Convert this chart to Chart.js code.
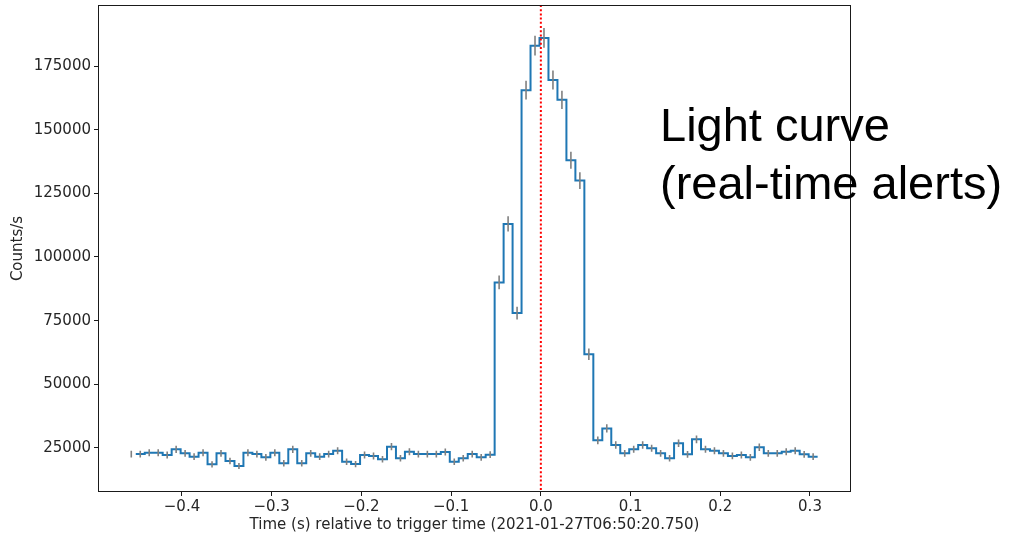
<!DOCTYPE html>
<html>
<head>
<meta charset="utf-8">
<script src="https://cdn.jsdelivr.net/npm/chart.js@4.4.1/dist/chart.umd.min.js"></script>
<style>
  html, body { margin: 0; padding: 0; background: #ffffff; }
  #wrap { position: relative; width: 1011px; height: 540px; }
  canvas { display: block; }
</style>
</head>
<body>
<div id="wrap"><canvas id="c" width="1011" height="540"></canvas></div>
<script>
// ---- data ----
const binWidth = 0.01; // seconds
const binCenters = [
  -0.4565, -0.4465, -0.4365, -0.4265, -0.4165, -0.4065, -0.3965, -0.3865, -0.3765, -0.3665,
  -0.3565, -0.3465, -0.3365, -0.3265, -0.3165, -0.3065, -0.2965, -0.2865, -0.2765, -0.2665,
  -0.2565, -0.2465, -0.2365, -0.2265, -0.2165, -0.2065, -0.1965, -0.1865, -0.1765, -0.1665,
  -0.1565, -0.1465, -0.1365, -0.1265, -0.1165, -0.1065, -0.0965, -0.0865, -0.0765, -0.0665,
  -0.0565, -0.0465, -0.0365, -0.0265, -0.0165, -0.0065, 0.0035, 0.0135, 0.0235, 0.0335,
  0.0435, 0.0535, 0.0635, 0.0735, 0.0835, 0.0935, 0.1035, 0.1135, 0.1235, 0.1335,
  0.1435, 0.1535, 0.1635, 0.1735, 0.1835, 0.1935, 0.2035, 0.2135, 0.2235, 0.2335,
  0.2435, 0.2535, 0.2635, 0.2735, 0.2835, 0.2935, 0.3035
];
const countRates = [
  22600, 22600, 23150, 23150, 22250, 24480, 22900, 21600, 23150, 18600,
  22900, 19900, 17930, 23150, 22600, 21350, 23150, 19000, 24480, 19000,
  22900, 21600, 22600, 23950, 19620, 18700, 22250, 21860, 20560, 25520,
  20950, 23550, 22600, 22600, 22600, 23400, 19620, 20950, 22600, 21350,
  22380, 90000, 113000, 78000, 165500, 183000, 186000, 169500, 161700, 138000,
  130000, 61800, 28000, 32700, 26200, 22900, 24500, 26200, 24900, 22900,
  20950, 26850, 22500, 28400, 24500, 23950, 22900, 21900, 22250, 21350,
  25300, 22900, 22900, 23550, 23950, 22500, 21600
];
const rateErrors = [
  1350, 1350, 1370, 1370, 1340, 1410, 1360, 1320, 1370, 1230,
  1360, 1270, 1200, 1370, 1350, 1310, 1370, 1240, 1410, 1240,
  1360, 1320, 1350, 1390, 1260, 1230, 1340, 1330, 1290, 1440,
  1300, 1380, 1350, 1350, 1350, 1380, 1260, 1300, 1350, 1310,
  1350, 2700, 3030, 2510, 3660, 3850, 3880, 3700, 3620, 3340,
  3250, 2240, 1510, 1630, 1460, 1360, 1410, 1460, 1420, 1360,
  1300, 1470, 1350, 1520, 1410, 1390, 1360, 1330, 1340, 1310,
  1430, 1360, 1360, 1380, 1390, 1350, 1320
];
const xTicks = [-0.4, -0.3, -0.2, -0.1, 0.0, 0.1, 0.2, 0.3];
const xTickLabels = ['\u22120.4', '\u22120.3', '\u22120.2', '\u22120.1', '0.0', '0.1', '0.2', '0.3'];
const yTicks = [25000, 50000, 75000, 100000, 125000, 150000, 175000];
const yTickLabels = ['25000', '50000', '75000', '100000', '125000', '150000', '175000'];
const triggerTime = 0.0;
const xLimits = [-0.4936, 0.3457];
const yLimits = [7722, 198953];
const xTitle = 'Time (s) relative to trigger time (2021-01-27T06:50:20.750)';
const yTitle = 'Counts/s';
const annotationLines = ['Light curve', '(real-time alerts)'];

// ---- derived plotting tables ----
// step line (drawn from the second bin onward, as in the reference)
const stepPoints = [];
for (let i = 1; i < binCenters.length; i++) {
  stepPoints.push({ x: binCenters[i] - binWidth / 2, y: countRates[i] });
  stepPoints.push({ x: binCenters[i] + binWidth / 2, y: countRates[i] });
}
// vertical error bars, separated by gaps
const errPoints = [];
for (let i = 0; i < binCenters.length; i++) {
  errPoints.push({ x: binCenters[i], y: countRates[i] - rateErrors[i] });
  errPoints.push({ x: binCenters[i], y: countRates[i] + rateErrors[i] });
  errPoints.push({ x: binCenters[i], y: null });
}

const FONT = 'DejaVu Sans';
const TEXT = '#262626';

const extras = {
  id: 'extras',
  afterDatasetsDraw(chart) {
    const { ctx, chartArea: a, scales: { x } } = chart;
    const px = x.getPixelForValue(triggerTime);
    ctx.save();
    ctx.strokeStyle = '#ff0000';
    ctx.lineWidth = 2;
    ctx.setLineDash([2, 2.2]);
    ctx.beginPath();
    ctx.moveTo(px, a.top);
    ctx.lineTo(px, a.bottom);
    ctx.stroke();
    ctx.restore();
  },
  afterDraw(chart) {
    const { ctx, chartArea: a } = chart;
    ctx.save();
    ctx.strokeStyle = '#1a1a1a';
    ctx.lineWidth = 1;
    ctx.strokeRect(Math.round(a.left) + 0.5, Math.round(a.top) + 0.5,
      Math.round(a.right - a.left) - 1, Math.round(a.bottom - a.top) - 1);
    ctx.fillStyle = '#000000';
    ctx.font = '47px "Liberation Sans", Arial, sans-serif';
    ctx.textAlign = 'left';
    ctx.textBaseline = 'alphabetic';
    ctx.fillText(annotationLines[0], 660, 141);
    ctx.fillText(annotationLines[1], 660, 199);
    ctx.restore();
  }
};

new Chart(document.getElementById('c'), {
  type: 'line',
  data: {
    datasets: [
      {
        label: 'errors',
        data: errPoints,
        borderColor: '#808080',
        borderWidth: 1.6,
        pointRadius: 0,
        spanGaps: false,
        tension: 0
      },
      {
        label: 'rate',
        data: stepPoints,
        borderColor: '#1f77b4',
        borderWidth: 2,
        pointRadius: 0,
        tension: 0
      }
    ]
  },
  options: {
    responsive: false,
    animation: false,
    devicePixelRatio: 1,
    layout: { padding: { left: 0, top: 5, right: 160, bottom: 0 } },
    plugins: { legend: { display: false }, tooltip: { enabled: false } },
    scales: {
      x: {
        type: 'linear',
        min: xLimits[0],
        max: xLimits[1],
        afterBuildTicks(scale) { scale.ticks = xTicks.map(v => ({ value: v })); },
        afterFit(scale) { scale.height = 48; scale.paddingLeft = 0; scale.paddingRight = 0; },
        grid: { display: true, drawOnChartArea: false, drawTicks: true, tickLength: 4, color: '#1a1a1a' },
        border: { display: false },
        ticks: {
          autoSkip: false, maxRotation: 0, padding: 2, color: TEXT,
          font: { family: FONT, size: 15 },
          callback: (v, i) => xTickLabels[i]
        },
        title: {
          display: true, text: xTitle, color: TEXT,
          font: { family: FONT, size: 15 },
          padding: { top: 0, bottom: 6 }
        }
      },
      y: {
        type: 'linear',
        min: yLimits[0],
        max: yLimits[1],
        afterBuildTicks(scale) { scale.ticks = yTicks.map(v => ({ value: v })); },
        afterFit(scale) { scale.width = 98; scale.paddingTop = 0; scale.paddingBottom = 0; },
        grid: { display: true, drawOnChartArea: false, drawTicks: true, tickLength: 4, color: '#1a1a1a' },
        border: { display: false },
        ticks: {
          autoSkip: false, padding: 3, color: TEXT,
          font: { family: FONT, size: 15 },
          callback: (v, i) => yTickLabels[i]
        },
        title: {
          display: true, text: yTitle, color: TEXT,
          font: { family: FONT, size: 15 },
          padding: { top: 9, bottom: 0 }
        }
      }
    }
  },
  plugins: [extras]
});
</script>
</body>
</html>
